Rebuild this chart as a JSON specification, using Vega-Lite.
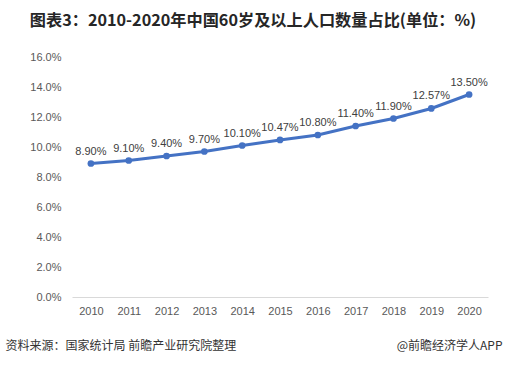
{
  "$schema": "https://vega.github.io/schema/vega-lite/v6.json",
  "autosize": {"type": "fit", "contains": "padding"},
  "width": 506,
  "height": 365,
  "padding": {"left": 5, "right": 18, "top": 12, "bottom": 14},
  "background": "white",
  "config": {"view": {"stroke": null}, "font": "Liberation Sans"},
  "title": {
    "text": "图表3：2010-2020年中国60岁及以上人口数量占比(单位：%)",
    "font": "Noto Sans CJK SC",
    "fontSize": 16.2,
    "fontWeight": "bold",
    "color": "#262626",
    "anchor": "middle",
    "dx": -27,
    "offset": 22
  },
  "data": {
    "values": [
      {"year": "2010", "value": 8.90, "label": "8.90%"},
      {"year": "2011", "value": 9.10, "label": "9.10%"},
      {"year": "2012", "value": 9.40, "label": "9.40%"},
      {"year": "2013", "value": 9.70, "label": "9.70%"},
      {"year": "2014", "value": 10.10, "label": "10.10%"},
      {"year": "2015", "value": 10.47, "label": "10.47%"},
      {"year": "2016", "value": 10.80, "label": "10.80%"},
      {"year": "2017", "value": 11.40, "label": "11.40%"},
      {"year": "2018", "value": 11.90, "label": "11.90%"},
      {"year": "2019", "value": 12.57, "label": "12.57%"},
      {"year": "2020", "value": 13.50, "label": "13.50%"}
    ]
  },
  "encoding": {
    "x": {"field": "year", "type": "ordinal", "scale": {"paddingInner": 0, "paddingOuter": 0}},
    "y": {
      "field": "value", "type": "quantitative", "scale": {"domain": [0, 16]},
      "axis": {
        "values": [0, 2, 4, 6, 8, 10, 12, 14, 16],
        "labelOverlap": false,
        "labelExpr": "format(datum.value, '.1f') + '%'",
        "labelFontSize": 11, "labelColor": "#595959", "labelPadding": 11,
        "domain": false, "ticks": false, "grid": false, "title": null
      }
    }
  },
  "layer": [
    {
      "mark": {"type": "line", "color": "#4472C4", "strokeWidth": 3, "point": {"filled": true, "size": 45, "color": "#4472C4"}},
      "encoding": {
        "x": {
          "field": "year", "type": "ordinal",
          "axis": {
            "orient": "bottom",
            "labelAngle": 0, "labelFontSize": 11, "labelColor": "#595959", "labelPadding": 8,
            "ticks": false, "domainColor": "#D9D9D9", "domainWidth": 1,
            "title": "资料来源：国家统计局 前瞻产业研究院整理",
            "titleFont": "Noto Sans CJK SC", "titleFontSize": 12, "titleFontWeight": "normal",
            "titleColor": "#333333", "titleAnchor": "start", "titleAlign": "left",
            "titleX": -67, "titleY": 43
          }
        }
      }
    },
    {
      "mark": {"type": "text", "baseline": "bottom", "dy": -7, "fontSize": 11, "color": "#404040"},
      "encoding": {
        "text": {"field": "label"},
        "x": {
          "field": "year", "type": "ordinal",
          "axis": {
            "orient": "bottom",
            "labels": false, "ticks": false, "domain": false,
            "title": "@前瞻经济学人APP",
            "titleFont": "Noto Sans CJK SC", "titleFontSize": 12, "titleFontWeight": "normal",
            "titleColor": "#333333", "titleAnchor": "end", "titleAlign": "right",
            "titleX": 430, "titleY": 43
          }
        }
      }
    }
  ],
  "resolve": {"axis": {"x": "independent"}}
}
